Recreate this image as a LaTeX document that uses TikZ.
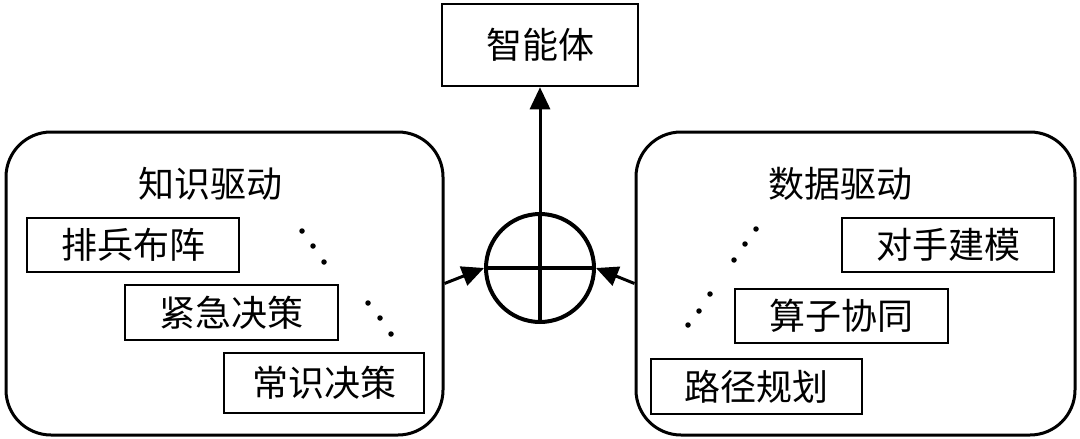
\documentclass[tikz,border=0pt]{standalone}
\usepackage{fontspec}
\setmainfont{Noto Sans CJK SC}
\usetikzlibrary{arrows.meta}
\begin{document}
\begin{tikzpicture}[x=1pt,y=-1pt,
  cjk/.style={font=\fontsize{36}{36}\selectfont},
  item/.style={cjk, draw, line width=2.5pt, inner sep=0pt, minimum height=54pt},
  group/.style={draw, line width=3pt, rounded corners=45pt, inner sep=0pt},
  dotn/.style={circle, fill, inner sep=0pt, minimum size=5.5pt},
  arr/.style={line width=3pt, -{Triangle[length=22pt,width=20pt]}}]
\useasboundingbox (0,0) rectangle (1080,439);
% top box
\node[item, minimum width=196pt, minimum height=82pt] (A) at (540,45) {智能体};
% group boxes
\node[group, minimum width=437pt, minimum height=303pt] (L) at (224.5,283.5) {};
\node[group, minimum width=439pt, minimum height=303pt] (R) at (855.5,283.5) {};
\node[cjk] (LT) at (210,184) {知识驱动};
\node[cjk] (RT) at (840,184) {数据驱动};
% left items
\node[item, minimum width=212pt] (L1) at (133,245) {排兵布阵};
\node[item, minimum width=213pt, minimum height=55pt] (L2) at (231.5,312.5) {紧急决策};
\node[item, minimum width=200pt, minimum height=60pt] (L3) at (324,383) {常识决策};
% right items
\node[item, minimum width=212pt] (R1) at (948,245) {对手建模};
\node[item, minimum width=213pt] (R2) at (841.5,316) {算子协同};
\node[item, minimum width=211pt, minimum height=55pt] (R3) at (756.5,386.5) {路径规划};
% dots
\node[dotn] (d1) at (302,231) {};
\node[dotn] (d2) at (313,246) {};
\node[dotn] (d3) at (324,262) {};
\node[dotn] (d4) at (368,303) {};
\node[dotn] (d5) at (380,318) {};
\node[dotn] (d6) at (391,334) {};
\node[dotn] (d7) at (756,229) {};
\node[dotn] (d8) at (745,244) {};
\node[dotn] (d9) at (734,260) {};
\node[dotn] (d10) at (710,294) {};
\node[dotn] (d11) at (699,311) {};
\node[dotn] (d12) at (688,325) {};
% sum circle
\node[draw, circle, line width=4pt, minimum size=108pt, inner sep=0pt] (S) at (540,268) {};
\draw[line width=3.5pt] (S.north) -- (S.south);
\draw[line width=3.5pt] (S.west) -- (S.east);
% arrows
\draw[arr] (S.north) -- (A.south);
\draw[arr] (L.east) -- (S.west);
\draw[arr] (R.west) -- (S.east);
\end{tikzpicture}
\end{document}
